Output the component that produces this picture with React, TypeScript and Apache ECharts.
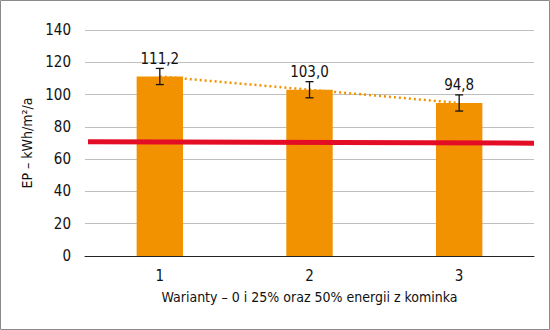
import React, { useEffect, useRef } from "react";
import * as echarts from "echarts";

const categories = ["1", "2", "3"];
const epValues = [111.2, 103.0, 94.8];
const errorMargin = [5, 5, 5];
const trendValues = [111.2, 103.0, 94.8];
const referenceLine: [number, number][] = [
  [0.02, 70.8],
  [3, 69.9],
];

const FONT = '"Liberation Sans Narrow", "DejaVu Sans Condensed", "Liberation Sans", sans-serif';

export default function App() {
  const ref = useRef<HTMLDivElement>(null);

  useEffect(() => {
    if (!ref.current) return;
    const chart = echarts.init(ref.current, undefined, { renderer: "svg" });

    const errorData = epValues.map((v, i) => [i, v - errorMargin[i], v + errorMargin[i]]);

    chart.setOption({
      animation: false,
      backgroundColor: "#ffffff",
      textStyle: { fontFamily: FONT },
      graphic: [
        {
          type: "rect",
          shape: { x: 0.5, y: 0.5, width: 549, height: 329 },
          style: { fill: "none", stroke: "#8a8a8a", lineWidth: 1 },
          silent: true,
        },
      ],
      grid: { left: 85, right: 16, top: 30, bottom: 74 },
      xAxis: [
        {
          type: "category",
          data: categories,
          axisLine: { show: true, lineStyle: { color: "#222", width: 1 } },
          axisTick: { show: false },
          axisLabel: { color: "#111", fontSize: 15, fontFamily: FONT, margin: 12 },
          name: "Warianty – 0 i 25% oraz 50% energii z kominka",
          nameLocation: "middle",
          nameGap: 34,
          nameTextStyle: { color: "#111", fontSize: 14, fontFamily: FONT },
        },
        {
          type: "value",
          min: 0,
          max: 3,
          show: false,
        },
      ],
      yAxis: {
        type: "value",
        min: 0,
        max: 140,
        interval: 20,
        axisLine: { show: false },
        axisTick: { show: false },
        axisLabel: { color: "#111", fontSize: 15, fontFamily: FONT, margin: 14 },
        splitLine: { lineStyle: { color: "#bfbfbf", width: 1 } },
        name: "EP – kWh/m²/a",
        nameLocation: "middle",
        nameGap: 47,
        nameTextStyle: { color: "#111", fontSize: 14, fontFamily: FONT },
      },
      series: [
        {
          type: "bar",
          data: epValues,
          barWidth: "31%",
          itemStyle: { color: "#f39200" },
          label: {
            show: true,
            position: "top",
            distance: 10,
            color: "#111",
            fontSize: 15,
            fontFamily: FONT,
            formatter: (p: any) => p.value.toFixed(1).replace(".", ","),
          },
          z: 2,
        },
        {
          type: "line",
          data: trendValues,
          symbol: "none",
          lineStyle: { color: "#f39200", width: 2.5, type: [2, 3] },
          z: 3,
        },
        {
          type: "line",
          xAxisIndex: 1,
          data: referenceLine,
          symbol: "none",
          lineStyle: { color: "#e30d26", width: 5 },
          z: 4,
        },
        {
          type: "custom",
          data: errorData,
          z: 5,
          renderItem: (params: any, api: any) => {
            const x = api.value(0);
            const lo = api.coord([x, api.value(1)]);
            const hi = api.coord([x, api.value(2)]);
            const cap = 4;
            const style = { stroke: "#111", lineWidth: 1.3 };
            return {
              type: "group",
              children: [
                { type: "line", shape: { x1: hi[0], y1: hi[1], x2: lo[0], y2: lo[1] }, style },
                { type: "line", shape: { x1: hi[0] - cap, y1: hi[1], x2: hi[0] + cap, y2: hi[1] }, style },
                { type: "line", shape: { x1: lo[0] - cap, y1: lo[1], x2: lo[0] + cap, y2: lo[1] }, style },
              ],
            };
          },
        },
      ],
    });

    return () => chart.dispose();
  }, []);

  return (
    <div
      ref={ref}
      style={{ position: "fixed", left: 0, top: 0, width: 550, height: 330 }}
    />
  );
}
